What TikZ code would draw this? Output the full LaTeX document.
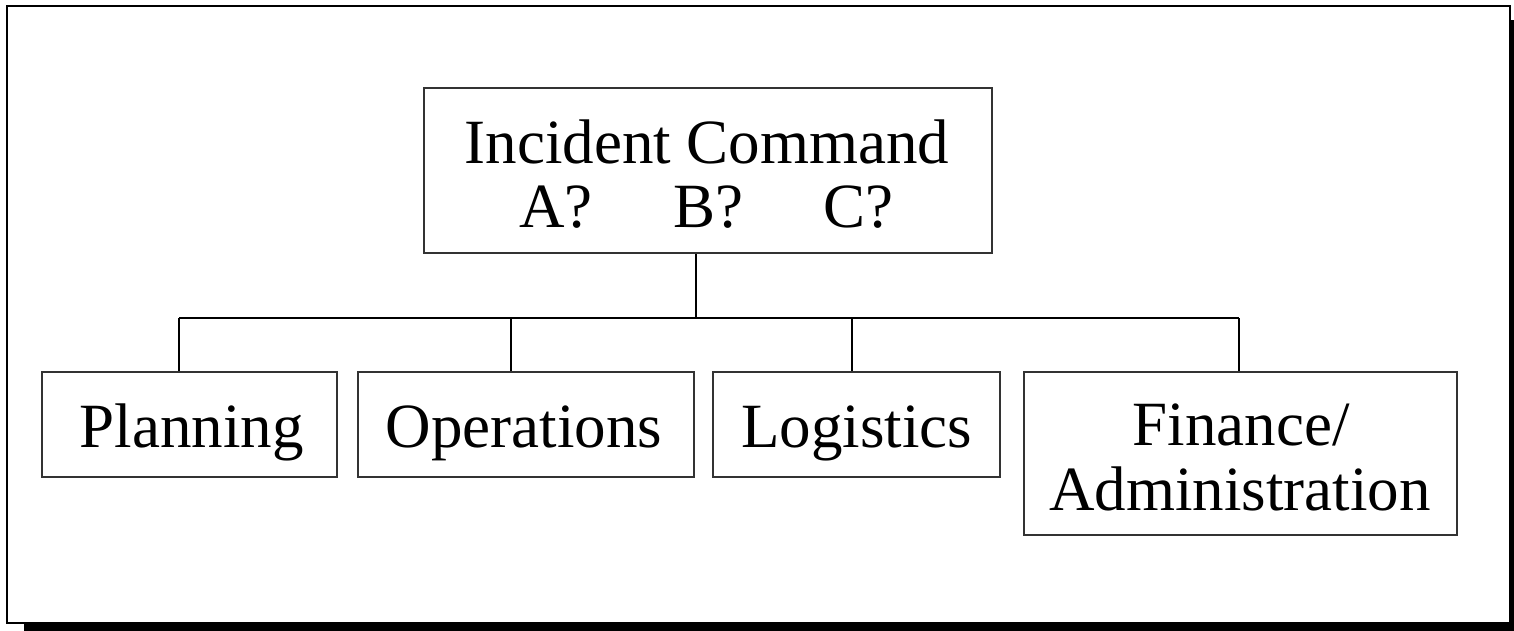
\documentclass[tikz,border=0pt]{standalone}
\usepackage{fontspec}
\setmainfont{Liberation Serif}
\begin{document}
\begin{tikzpicture}[x=0.5pt,y=-0.5pt,
  unitbox/.style={draw=black!80, line width=0.8pt, fill=white, inner sep=0pt},
  wire/.style={draw=black, line width=0.6pt},
  lbl/.style={anchor=base, inner sep=0pt, font=\fontsize{31.5pt}{32.3pt}\selectfont}]
  \useasboundingbox (0,0) rectangle (1514,631);
  % page frame with drop shadow
  \fill[black] (24,20) rectangle (1514,631);
  \draw[fill=white, line width=1pt] (7,6) rectangle (1510,623);

  % boxes
  \node[unitbox, minimum width=568*0.5pt, minimum height=165*0.5pt] (ic)   at (708,170.5) {};
  \node[unitbox, minimum width=295*0.5pt, minimum height=105*0.5pt] (plan) at (189.5,424.5) {};
  \node[unitbox, minimum width=336*0.5pt, minimum height=105*0.5pt] (ops)  at (526,424.5) {};
  \node[unitbox, minimum width=287*0.5pt, minimum height=105*0.5pt] (log)  at (856.5,424.5) {};
  \node[unitbox, minimum width=433*0.5pt, minimum height=163*0.5pt] (fin)  at (1240.5,453.5) {};

  % labels
  \node[lbl] (ic-a) at (707,163) {Incident Command};
  \node[lbl] (ic-b) at (706.5,227) {A?\hspace{1.28em}B?\hspace{1.28em}C?};
  \node[lbl] (plan-t) at (191.5,447) {Planning};
  \node[lbl] (ops-t)  at (524,447) {Operations};
  \node[lbl] (log-t)  at (856.5,447) {Logistics};
  \node[lbl] (fin-a)  at (1241,445) {Finance/};
  \node[lbl] (fin-b)  at (1240,510) {Administration};

  % tree connectors
  \coordinate (bus) at (696,318);
  \coordinate (j1) at (179,318);
  \coordinate (j2) at (511,318);
  \coordinate (j3) at (852,318);
  \coordinate (j4) at (1239,318);
  \draw[wire] (ic.south -| bus) -- (bus);
  \draw[wire] (j1) -- (j4);
  \draw[wire] (j1) -- (j1 |- plan.north);
  \draw[wire] (j2) -- (j2 |- ops.north);
  \draw[wire] (j3) -- (j3 |- log.north);
  \draw[wire] (j4) -- (j4 |- fin.north);
\end{tikzpicture}
\end{document}
